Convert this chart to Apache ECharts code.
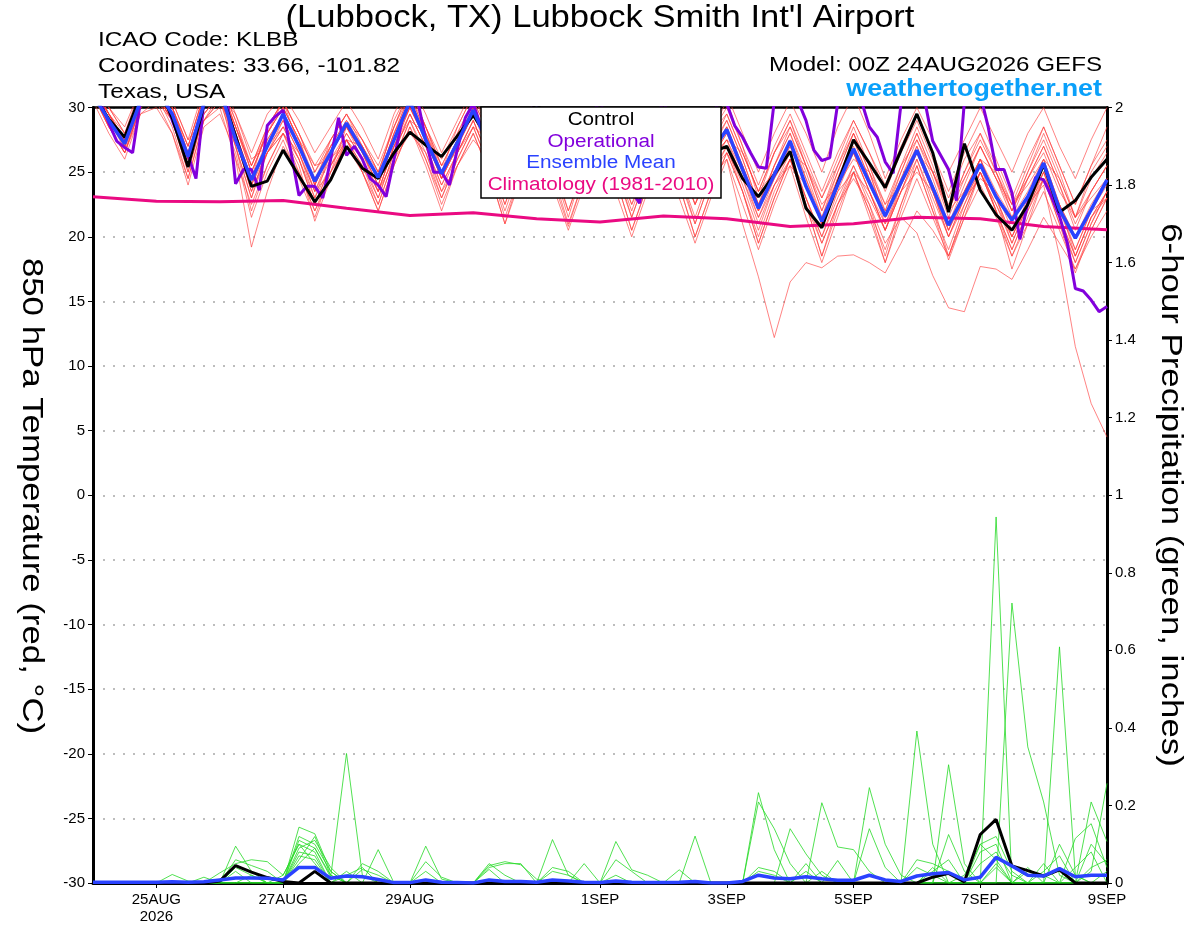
<!DOCTYPE html>
<html>
<head>
<meta charset="utf-8">
<script src="https://cdn.jsdelivr.net/npm/echarts@6/dist/echarts.min.js"></script>
<style>html,body{margin:0;padding:0;background:#fff}#c{width:1200px;height:927px}</style>
</head>
<body>
<div id="c"></div>
<script>
// ---------- axes / categories ----------
const days = ['24AUG','25AUG','26AUG','27AUG','28AUG','29AUG','30AUG','31AUG','1SEP','2SEP','3SEP','4SEP','5SEP','6SEP','7SEP','8SEP','9SEP'];
const hours6 = ['00Z','06Z','12Z','18Z'];
const hours3 = ['00Z','03Z','06Z','09Z','12Z','15Z','18Z','21Z'];
const tickDays = ['25AUG','27AUG','29AUG','1SEP','3SEP','5SEP','7SEP','9SEP'];
const tickText = ['25AUG\n2026','27AUG','29AUG','1SEP','3SEP','5SEP','7SEP','9SEP'];

// ---------- 850 hPa temperature (C), 6-hourly ----------
const control = [31,29.1,27.7,31, 32,29.2,25.4,30.2, 31.5,27.8,23.9,24.3, 26.7,24.7,22.7,24.4, 27,25.3,24.5,26.5, 28.1,27.1,26.2,27.8,
  29.4,27.5,25,28, 30.5,27.5,24.5,27.5, 30,27.5,24.5,27, 29.5,27,24,26.5, 27,24.5,23.1,24.8, 26.6,22.2,20.7,24.1,
  27.5,25.7,23.8,26.7, 29.5,26.5,21.9,27.2, 23.6,21.7,20.5,22.5, 25.6,21.9,22.8,24.6, 26];
const ensMean = [31,29,27.2,30.5, 31.5,29.5,26.2,30.3, 31.5,27.5,24.4,27, 29.5,27,24.3,26.5, 28.8,26.7,24.6,27.5, 30.5,27.5,24.9,27.3,
  29.8,27,24.5,27.5, 30,27,24,27, 29.8,27,24,27, 29.5,26.5,23.8,26.5, 28.3,25.2,22.2,24.8, 27.4,23.9,21.2,24,
  26.8,24.2,21.6,24.2, 26.7,23.8,20.9,23.2, 25.6,23.1,21.3,23.1, 25.7,22.1,19.9,22.1, 24.4];
// operational run, 3-hourly
const operational = [31,30.3,28.8,27.4,26.9,26.5,30.5,31.5, 32,31,29,27.5,26.3,24.5,30.5,32, 32,30.2,24.1,25.2,25.2,23.6,28.6,29.3,
  29.8,26.5,23.2,23.9,23.9,23,26,29.2, 26.3,27,26,24.5,24,23.1,26,29, 30.5,30.5,27.5,25,25,24,26.8,29.2,
  30.3,28.5,27,25.5,24,25,27.5,29.5, 30.5,28.5,26.5,25,24,24.5,27,29.5, 30.5,28.5,26,24.5,23.5,22.6,26,29,
  30.5,29,27,25.5,25,26.5,29,30.5, 30.3,28.6,27.7,26.5,25.4,25.3,30.5,31.5, 32,30.5,29,26.7,25.9,26.1,30.3,31.5,
  31.5,30.5,28.5,27.7,25.8,24.9,30.3,31.5, 32,30.5,27.4,26.3,25.2,22.8,30.5,31.5, 31,28.5,25.2,25.2,23.4,19.8,22.6,24.6,
  24.4,23.1,21.6,19.5,16,15.8,15.1,14.2, 14.6];
// climatology 1981-2010, daily at 00Z
const climatology = [23.1,22.75,22.7,22.8,22.2,21.65,21.85,21.4,21.15,21.6,21.4,20.8,21.0,21.5,21.4,20.8,20.55];

// ensemble members (temperature)
const m01 = [31.5,29.5,28,31, 32,30,27,31, 32,28.5,25.5,28, 30.5,28,25.5,27.5, 29.5,27.5,25.5,28.5, 31.5,28.5,26,28.5, 31,28,25.5,28.5, 31,28,25.5,28, 30.5,28,25,28, 30.5,27.5,25,28, 29.5,26.5,23.5,26.5, 28.5,25.5,23,25.5, 28,25.5,22.5,25.5, 27.5,25,22.5,24.5, 27,24.5,22.5,24.5, 26.5,23.5,21.5,23.5, 25.5];
const m02 = [31,28.5,26.5,29.5, 30.5,28,24.5,29, 30,26,22.5,25.5, 28,25,22,24.5, 27.5,25,22.5,26, 29,26,23,26, 28.5,25.5,21.5,25, 28,25,21,24.5, 27.5,24.5,20.5,24, 27,24,20,23.5, 26.5,23.5,19.5,23, 26,22.5,18.5,22, 25,22,18,21.5, 24.5,21.5,18.5,22, 25,22,18.5,21.5, 24.5,21,18,21, 23.5];
const m03 = [32,29.5,27.5,31, 32,30,26.5,30.5, 32,28,24,27, 29.5,27,24.5,26.5, 28.5,27,24.5,28, 31,28,25,27.5, 30,27.5,24.5,28, 30.5,27,24,27.5, 30,27,24,27, 29.5,26.5,23.5,26.5, 28.5,25,22,25, 27.5,24,21,24.5, 27,24,21.5,24.5, 27.5,24.5,21,23.5, 26,23.5,21.5,23.5, 26,22.5,20,22.5, 24.5];
const m04 = [31.5,29,27,30.5, 31.5,29.5,26,30.5, 31.5,28.5,25.5,28.5, 30.5,28,25,27, 29,27.5,25,28.5, 31,28.5,25.5,28, 30.5,28,25.5,28.5, 31,28.5,25.5,28.5, 31,28,25,28.5, 31,28.5,25.5,29, 31,28,25,28, 30.5,28,25,28.5, 31,28,24.5,27.5, 30,27.5,25,27.5, 30,27.5,25,28, 30,27,24.5,27.5, 30];
const m05 = [31,28.5,26.5,30, 31,29,25.5,29.5, 31,26,19.2,23.5, 27,25,22,25, 28.5,26,23.5,27, 30,27.5,24.5,27, 29.5,26.5,23,26.5, 29.5,26.5,23,26.5, 29,26,22.5,26, 28.5,26,23,26, 28,25,21.5,24.5, 27,24,21,24, 26.5,23.5,20.5,23.5, 26.5,23.5,20,22.5, 25,22.5,20,22.5, 25,21.5,18.5,21.5, 23.5];
const m06 = [31.5,29.5,27.5,30.5, 31.5,29.5,26.5,30, 31,27.5,23.5,26.5, 29,26.5,23.5,26, 28,26,23.5,27, 29.5,27,24,26.5, 29,26,22.5,26, 29,26,22,25.5, 28.5,25.5,21.5,25, 28,25,21,24.5, 26,21,16.9,12.2, 16.5,18,17.6,18.5, 18.6,18,17.2,19.5, 22,20.5,18.5,21.5, 24,21.5,18.5,21, 23.5,20.5,17.5,20.5, 23];
const m07 = [31,29,27,30.5, 31.5,29.5,26,30.5, 31.5,27.5,24,27.5, 29.5,27,24,26.5, 28.5,26.5,24,27.5, 30,27.5,24.5,27, 29.5,27,24,27, 29.5,27,23.5,27, 29.5,26.5,23,26.5, 29,26,22.5,26, 27.5,25,22,24.5, 26.5,23,19.5,22.5, 24.5,22.5,19.5,21.5, 20.3,17,14.5,14.2, 17.7,17.5,16.7,19, 21.5,19.5,17.5,20, 22];
const m08 = [31,29,27.5,30.5, 31,29,26,30, 31,27,23,27, 29,26.5,23,26.5, 28.5,26.5,24,27.5, 30,27.5,25,27.5, 30,27,24,27, 30,27,23.5,27, 30,27,23.5,27, 29.5,26.5,23,26.5, 28.5,25.5,22,25, 27,24,21,24, 26.5,23.5,20.5,23.5, 26.5,23.5,20.5,23.5, 26,23,20,22.5, 24,18.5,11.5,7.1, 4.5];
const m09 = [31,28.5,26.5,30, 31.5,29,25,29.5, 31,27,23,26.5, 28.5,26,22.5,25.5, 28,26,23,26.5, 29.5,27,24,26.5, 29,26,23,26, 28.5,26,23,26.5, 29.5,27,24,27, 29.5,26.5,23,26, 28,25.5,22.5,25, 27.5,24.5,21.5,24.5, 27.5,24.5,22,25, 28,25,21.5,24.5, 27,24.5,22,24.5, 27,24,21,23.5, 25.5];
const m10 = [32,30,28,31.5, 32.5,30.5,27.5,31.5, 32.5,29.5,26.5,29.5, 31,29,26.5,28.5, 30.5,28.5,26,29.5, 32,29.5,26.5,29, 31.5,29,26,29, 31.5,29,26,29, 31.5,28.5,25.5,28.5, 31,28,25,28, 30,27,24,27, 29.5,26.5,23.5,26.5, 29,26.5,24,27, 29.5,26.5,23.5,26.5, 29,26,23,26, 28.5,25.5,22.5,25.5, 27.5];
const m11 = [31,29,27,30, 31,29,26,30, 31,27.5,24,26.5, 28,25.5,21.2,24.5, 27.5,25,22,25.5, 28.5,26,22.5,25.5, 28,25,21,24.5, 27,24,20.5,24, 27,23.5,20,23.5, 26.5,23,19.5,23, 26,22.5,19,22.5, 25.5,21.5,18,21.5, 25,21.5,18,22, 25.5,22,19,22.5, 25.5,22,19,22, 25,21.5,18,21, 23.5];
const m12 = [31.5,29.5,27,30.5, 31,29,26,30, 31.5,28.5,25,28, 30,27.5,24.5,27, 28.5,27,24.5,28, 30.5,28,25,27.5, 30,27,24,27.5, 30,27,24,27, 29.5,27,23.5,26.5, 29,26,22.5,25.5, 27.5,24.5,21,24, 26,23,20,23, 25.5,23,20.5,23.5, 26,23,20,23, 25,22.5,19.5,22.5, 25,22,19,22, 24.5];
const m13 = [31,29,27.5,31, 32,30,27,31, 32,29,25.5,28.5, 30.5,28,25,27.5, 29.5,27.5,25,28.5, 31.5,28.5,25.5,28, 30.5,28,25,28.5, 31,28,25,28, 30.5,27.5,24.5,27.5, 30,27,24,27, 29.5,26.5,23.5,26.5, 29,26,23,26, 29,26.5,23.5,26.5, 29,26,23,26, 28,25.5,22.5,25.5, 28.5,25.5,22.5,25.5, 28.5];
const m14 = [31,28.5,26.5,30, 31,28.5,24.5,29, 30.5,27,22,25.5, 28,26,22.5,25.5, 27.5,25.5,22.5,26, 29,26.5,23,26, 28.5,25.5,22,25.5, 28.5,25.5,21.5,25.5, 28.5,25.5,22,25.5, 28,25,21.5,25, 27,24,20.5,24, 26.5,23,20,23.5, 26.5,23.5,20.5,24, 27,24,20.5,23.5, 26,23,19.5,22.5, 25.5,22.5,18.5,21.5, 23.5];
const m15 = [31.5,29.5,27.5,31, 31.5,30,26.5,30.5, 32,28.5,25,28, 30,27.5,24,27, 29,27,24.5,28, 31,28,24.5,27, 29.5,27,24,27.5, 30.5,27.5,24.5,27.5, 30.5,27.5,24.5,27.5, 30.5,27.5,24,27, 29,26,22.5,25.5, 28,25,21.5,25, 28,25,21.5,24.5, 27,24,21,24, 27,24.5,21.5,24.5, 27,24,20.5,23.5, 25.5];
const m16 = [31,29,27,30.5, 31.5,29.5,25.5,30, 31.5,28,24.5,27.5, 29.5,27,23.5,26.5, 28.5,26.5,24,27.5, 30.5,27.5,24.5,27.5, 30,27.5,24.5,27.5, 30,27,24,27, 30,27,23.5,26.5, 29.5,26.5,23,26, 28.5,25.5,22,25.5, 28,24.5,21,24.5, 27.5,24.5,21,24, 26.5,23.5,20,23, 26,23,20,23, 26,22.5,19,22, 24];
const m17 = [32,30,28.5,31.5, 32,30,27,31, 32,29,25,28, 30,27.5,24,26.5, 28.5,26.5,23.5,27, 30,27.5,24.5,27.5, 30,27,24,27, 29.5,27,24,27, 30,27,23.5,27, 29.5,26.5,23,26.5, 29,26,22.5,25.5, 28.5,25.5,22,25, 28,25,21.5,25, 28,25,22,25, 28,25,22,25, 27.5,24.5,21.5,24.5, 26.5];
const m18 = [31,29,26.8,30, 31,29,25,29.5, 31,27.5,23.5,26.5, 28.5,26,23,25.5, 27.5,25.5,23,26.5, 29.5,27,23.5,26.5, 29,26,22.5,26, 28.5,25.5,22,25.5, 28,25,21.5,25, 27.5,24.5,21,24.5, 27,23.5,20,23.5, 26,22.5,19.5,22.5, 25,22,19,22.5, 25.5,22,18.2,21.5, 25,22,19,22, 24.5,21.5,18.5,21.5, 23];
const m19 = [31.5,30,28,30.5, 31,30.5,27.5,29, 31,29.5,26,27, 28.5,27.5,25.5,26, 27.5,27,25,27, 29,28,25.5,26.5, 28.5,27.5,25,27, 29.5,28,25.5,26.5, 29,28,25,26.5, 28.5,27.5,24.5,26, 27.5,26.5,23.5,25, 26.5,25.5,22.5,24, 26,25,22.5,24, 26.5,25,22,23.5, 26,25,22.5,24, 26,24.5,21.5,23, 24.5];
const m20 = [30.5,28,26,29.5, 30,28,24,28.5, 29.5,26.5,21.5,25, 27.5,24.5,21.5,25, 27,25,22,25.5, 28.5,25.5,22,25.5, 28,25,21,25, 28,24.5,20.8,24.5, 27.5,24.5,20.5,24, 27,24,20,23.5, 26.5,23.5,19.5,23, 26,22.5,18.5,22.5, 25.5,22.5,18.5,22.5, 26,22.5,18.5,22, 25,22,17.5,21, 24.5,21,17.2,20.5, 23];
const m21 = [32,29.5,27,31.5, 32.5,29.5,26,31, 32,28,24.5,28.5, 30.5,27,24,27.5, 29.5,27,24.5,29, 31.5,28.5,25,28.5, 31,28.5,25,28.5, 31,28.5,25,28.5, 31.5,28.5,24.5,28.5, 31,28,24.5,28, 30.5,27,23,26.5, 29,25.5,22,25.5, 28.5,25.5,22,25.5, 28.5,25.5,22,25, 27.5,25,22,25, 28,25,21.5,25, 27];
const m22 = [31,29.5,27.5,30, 30.5,29,26,29, 30.5,28,24.5,26.5, 28,26.5,23.5,25, 27.5,26,23.5,26, 28,26.5,23.5,25.5, 27.5,26,23,25.5, 27.5,26,23,25.5, 27.5,25.5,22.5,25, 27.5,25.5,22.5,25, 26.5,24.5,21.5,24, 25.5,24,21,23.5, 25,23.5,21,23.5, 25,23.5,20.5,23, 24.5,23.5,20.5,22.5, 24.5,22.5,20,22, 23];
const tempMembers = [m01,m02,m03,m04,m05,m06,m07,m08,m09,m10,m11,m12,m13,m14,m15,m16,m17,m18,m19,m20,m21,m22];

// ---------- 6-hour precipitation (inches) ----------
const precipControl = [0,0,0,0, 0,0,0,0, 0.005,0.045,0.028,0.014, 0.004,0,0.03,0, 0,0,0,0, 0,0,0,0, 0,0,0,0, 0,0,0,0,
  0,0,0,0, 0,0,0,0, 0,0,0,0, 0,0,0,0, 0,0,0,0, 0,0.015,0.025,0.003, 0.125,0.164,0.044,0.032, 0.018,0.034,0,0, 0];
const precipMean = [0.002,0.002,0.002,0.002, 0.002,0.003,0.002,0.003, 0.008,0.013,0.013,0.012, 0.008,0.04,0.04,0.012, 0.018,0.016,0.009,0.001,
  0.001,0.008,0.002,0.001, 0,0.008,0.004,0.004, 0.002,0.008,0.005,0.002, 0.001,0.005,0.002,0.001, 0.001,0.002,0.004,0,
  0,0.004,0.02,0.013, 0.011,0.016,0.011,0.007, 0.007,0.02,0.008,0.004, 0.018,0.024,0.027,0.008, 0.015,0.066,0.044,0.02,
  0.018,0.037,0.016,0.02, 0.02];
const g01 = [0,0,0,0, 0,0.022,0.005,0, 0,0,0,0, 0,0.144,0.127,0.03, 0,0,0,0, 0,0,0,0, 0,0,0,0, 0,0,0,0, 0,0.107,0.034,0.02, 0,0,0,0, 0,0,0,0, 0,0,0,0, 0,0,0,0, 0.392,0.1,0,0, 0,0.05,0,0, 0,0.609,0.02,0, 0];
const g02 = [0,0,0,0, 0,0,0,0, 0,0.095,0.03,0, 0,0.11,0.09,0.015, 0.334,0.02,0,0, 0,0.095,0.01,0, 0,0,0,0, 0,0,0,0, 0,0,0,0, 0,0,0,0, 0,0,0.233,0.086, 0,0,0.03,0, 0,0,0,0, 0,0,0.305,0.05, 0,0.944,0,0, 0,0,0,0, 0];
const g03 = [0,0,0,0, 0,0,0,0, 0.026,0.05,0.06,0.055, 0.02,0.1,0.08,0, 0,0,0.086,0, 0,0,0,0, 0,0.05,0.02,0, 0,0,0,0, 0,0,0,0, 0,0,0,0, 0,0,0.209,0.14, 0.05,0,0,0, 0,0,0,0, 0,0,0,0, 0,0,0.722,0.351, 0.209,0.02,0,0.209, 0.107];
const g04 = [0,0,0,0, 0,0,0,0.015, 0,0.04,0.02,0, 0,0.09,0.11,0.04, 0,0.05,0.03,0, 0,0,0,0, 0,0.045,0.055,0.047, 0.01,0,0,0, 0,0,0,0, 0,0,0,0, 0,0,0,0, 0.14,0.075,0.02,0, 0,0.246,0.1,0.02, 0,0,0,0, 0,0,0,0, 0,0,0,0.03, 0.257];
const g05 = [0,0,0,0, 0,0,0,0, 0,0.06,0.045,0.03, 0,0.08,0.07,0, 0.03,0,0,0, 0,0,0,0, 0,0,0,0, 0,0.112,0.02,0, 0,0,0,0, 0,0,0.121,0, 0,0,0,0, 0,0,0.207,0.093, 0.086,0.03,0,0, 0,0,0,0, 0.1,0.06,0,0, 0,0,0.115,0.153, 0.04];
const g06 = [0,0,0,0, 0,0,0,0, 0,0,0,0, 0,0.12,0.1,0.03, 0,0,0,0, 0,0.055,0.015,0, 0,0.04,0.05,0.05, 0,0,0,0.05, 0,0.06,0.03,0, 0,0,0,0, 0,0,0,0, 0,0,0,0.058, 0,0.14,0.04,0, 0,0,0.125,0.03, 0,0,0,0, 0.03,0.07,0,0.1, 0.05];
const g07 = [0,0,0,0, 0,0,0,0, 0,0,0,0, 0,0.07,0.06,0, 0.02,0.04,0,0, 0,0.03,0,0, 0,0,0,0, 0,0.04,0.03,0, 0,0,0,0, 0,0.034,0,0, 0,0,0.03,0.02, 0,0,0,0, 0,0,0,0, 0.06,0.05,0.03,0, 0.08,0.1,0,0.04, 0,0,0.04,0.08, 0];
const g08 = [0,0,0,0, 0,0,0,0, 0,0.03,0,0, 0,0.06,0.12,0.02, 0,0.035,0.02,0, 0,0,0,0, 0,0.035,0,0, 0,0,0,0, 0,0,0,0, 0,0,0,0, 0,0,0,0, 0,0.05,0,0, 0,0,0,0, 0,0.04,0,0, 0.05,0.08,0.02,0, 0.05,0,0,0, 0.03];
const g09 = [0,0,0,0, 0,0,0,0, 0,0,0,0, 0.02,0.1,0.05,0, 0,0,0,0, 0,0,0,0, 0,0,0,0, 0,0.03,0.02,0, 0,0.02,0,0, 0,0,0,0, 0,0,0.04,0.03, 0,0,0,0, 0,0,0,0, 0.04,0.02,0,0.02, 0.1,0.12,0.03,0, 0,0.1,0.02,0, 0];
const g10 = [0,0,0,0, 0,0,0,0, 0,0,0.02,0, 0,0.05,0.09,0.02, 0,0,0,0, 0,0,0,0, 0,0,0,0, 0,0,0,0, 0,0,0,0, 0,0,0,0, 0,0,0,0, 0,0.03,0,0, 0,0,0,0, 0,0.03,0.06,0, 0,0.04,0,0.03, 0.02,0,0,0.04, 0.06];
const precipMembers = [g01,g02,g03,g04,g05,g06,g07,g08,g09,g10];

// ---------- build category lists ----------
const cat6 = [], cat3 = [];
days.forEach((d, i) => {
  if (i < days.length - 1) {
    hours6.forEach(h => cat6.push(d + ' ' + h));
    hours3.forEach(h => cat3.push(d + ' ' + h));
  } else { cat6.push(d + ' 00Z'); cat3.push(d + ' 00Z'); }
});
function tickLabel(v) {
  const [d, h] = v.split(' ');
  const k = tickDays.indexOf(d);
  return (h === '00Z' && k >= 0) ? tickText[k] : null;
}

const FONT = '"Liberation Sans", Arial, Helvetica, sans-serif';
const RED = 'rgba(255,60,60,0.8)', GREEN = '#25d925';
const PURPLE = '#8200dc', BLUE = '#2a42ff', PINK = '#ea0a82';

const series = [];
tempMembers.forEach((m, i) => series.push({
  name: 'member ' + (i + 1), type: 'line', xAxisIndex: 0, yAxisIndex: 0, data: m,
  symbol: 'none', lineStyle: { color: RED, width: 0.8 }, z: 2, silent: true
}));
precipMembers.forEach((m, i) => series.push({
  name: 'precip member ' + (i + 1), type: 'line', xAxisIndex: 0, yAxisIndex: 1, data: m,
  symbol: 'none', lineStyle: { color: GREEN, width: 0.8 }, z: 2, silent: true
}));
series.push({ name: 'Climatology (1981-2010)', type: 'line', xAxisIndex: 2, yAxisIndex: 0, data: climatology,
  symbol: 'none', lineStyle: { color: PINK, width: 3 }, z: 3 });
series.push({ name: 'Operational', type: 'line', xAxisIndex: 1, yAxisIndex: 0, data: operational,
  symbol: 'none', lineStyle: { color: PURPLE, width: 3 }, z: 4 });
series.push({ name: 'Control', type: 'line', xAxisIndex: 0, yAxisIndex: 0, data: control,
  symbol: 'none', lineStyle: { color: '#000', width: 3 }, z: 5 });
series.push({ name: 'Ensemble Mean', type: 'line', xAxisIndex: 0, yAxisIndex: 0, data: ensMean,
  symbol: 'none', lineStyle: { color: BLUE, width: 3.5 }, z: 6 });
series.push({ name: 'Control precip', type: 'line', xAxisIndex: 0, yAxisIndex: 1, data: precipControl,
  symbol: 'none', lineStyle: { color: '#000', width: 3 }, z: 5 });
series.push({ name: 'Ensemble Mean precip', type: 'line', xAxisIndex: 0, yAxisIndex: 1, data: precipMean,
  symbol: 'none', lineStyle: { color: BLUE, width: 3.5 }, z: 6 });

function txt(text, x, y, size, fill, align, sx, extra) {
  return Object.assign({ type: 'text', x: x, y: y, scaleX: sx, scaleY: 1, z: 50,
    style: { text: text, font: size + 'px ' + FONT, fill: fill, textAlign: align, textVerticalAlign: 'middle' } }, extra || {});
}

const chart = echarts.init(document.getElementById('c'), null, { renderer: 'canvas' });
chart.setOption({
  animation: false,
  backgroundColor: '#fff',
  textStyle: { fontFamily: FONT },
  grid: { left: 93, right: 93, top: 107.5, bottom: 44, containLabel: false },
  xAxis: [
    { type: 'category', data: cat6, boundaryGap: false, position: 'bottom',
      axisLine: { show: true, onZero: false, lineStyle: { color: '#000', width: 3 } },
      axisTick: { show: true, length: 5, interval: (i, v) => tickLabel(v) !== null, lineStyle: { color: '#000', width: 1 } },
      axisLabel: { interval: 0, margin: 8, fontSize: 15, color: '#000', lineHeight: 17, fontFamily: FONT,
        formatter: v => tickLabel(v) || '' },
      splitLine: { show: false } },
    { type: 'category', data: cat3, boundaryGap: false, position: 'top',
      axisLine: { show: true, onZero: false, lineStyle: { color: '#000', width: 2.5 } },
      axisTick: { show: false }, axisLabel: { show: false }, splitLine: { show: false } },
    { type: 'category', data: days, boundaryGap: false, show: false }
  ],
  yAxis: [
    { type: 'value', min: -30, max: 30, interval: 5, position: 'left',
      axisLine: { show: true, onZero: false, lineStyle: { color: '#000', width: 3 } },
      axisTick: { show: true, length: 5, lineStyle: { color: '#000', width: 1 } },
      axisLabel: { fontSize: 15, color: '#000', margin: 8, fontFamily: FONT },
      splitLine: { show: true, lineStyle: { color: '#a8a8a8', type: [2, 8], width: 1.5 } } },
    { type: 'value', min: 0, max: 2, interval: 0.2, position: 'right',
      axisLine: { show: true, onZero: false, lineStyle: { color: '#000', width: 3 } },
      axisTick: { show: true, length: 5, lineStyle: { color: '#000', width: 1 } },
      axisLabel: { fontSize: 15, color: '#000', margin: 8, fontFamily: FONT,
        formatter: v => String(Math.round(v * 10) / 10) },
      splitLine: { show: false } }
  ],
  graphic: [
    txt("(Lubbock, TX) Lubbock Smith Int'l Airport", 600, 18, 32, '#000', 'center', 1.08),
    txt('ICAO Code: KLBB', 98, 40, 21, '#000', 'left', 1.16),
    txt('Coordinates: 33.66, -101.82', 98, 66, 21, '#000', 'left', 1.16),
    txt('Texas, USA', 98, 92, 21, '#000', 'left', 1.16),
    txt('Model: 00Z 24AUG2026 GEFS', 1102, 65, 21, '#000', 'right', 1.15),
    { type: 'text', x: 1102, y: 90, scaleX: 1.17, z: 50,
      style: { text: 'weathertogether.net', font: 'bold 23px ' + FONT, fill: '#0aa0fa', textAlign: 'right', textVerticalAlign: 'middle' } },
    txt('850 hPa Temperature (red, \u00b0C)', 31, 496, 29, '#000', 'center', 1.2, { rotation: -Math.PI / 2 }),
    txt('6-hour Precipitation (green, inches)', 1170, 495, 29, '#000', 'center', 1.2, { rotation: -Math.PI / 2 }),
    { type: 'group', x: 481, y: 107, z: 100, children: [
      { type: 'rect', shape: { x: 0, y: 0, width: 240, height: 91 }, style: { fill: '#fff', stroke: '#000', lineWidth: 1.5 }, z: 100 },
      txt('Control', 120, 13, 18, '#000', 'center', 1.15, { z: 101 }),
      txt('Operational', 120, 35, 18, PURPLE, 'center', 1.15, { z: 101 }),
      txt('Ensemble Mean', 120, 56, 18, BLUE, 'center', 1.15, { z: 101 }),
      txt('Climatology (1981-2010)', 120, 78, 18, PINK, 'center', 1.15, { z: 101 })
    ] }
  ],
  series: series
});
</script>
</body>
</html>
